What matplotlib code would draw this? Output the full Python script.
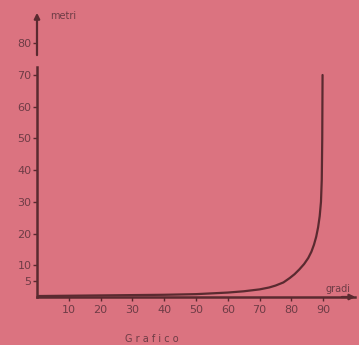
import numpy as np
import matplotlib
matplotlib.use("Agg")
import matplotlib.pyplot as plt

# curve (angle in gradi -> height in metri)
gradi = [0, 10, 20, 30, 40, 50, 60, 65, 70, 73, 75, 77.5, 79.5, 81, 82.5, 84, 85.3, 86.3, 87.1, 87.8, 88.4, 88.9, 89.3, 89.55, 89.7, 89.8]
metri = [0.3, 0.4, 0.5, 0.6, 0.7, 0.9, 1.4, 1.8, 2.4, 3.0, 3.6, 4.6, 6, 7.2, 8.7, 10.4, 12.3, 14.3, 16.5, 19, 22, 25.5, 30, 37, 50, 70]

x_ticks = [10, 20, 30, 40, 50, 60, 70, 80, 90]
y_ticks = [5, 10, 20, 30, 40, 50, 60, 70, 80]

bg = "#db7380"
ink = "#5a2a30"
txt = "#6e3c46"

W, H = 359, 345
fig = plt.figure(figsize=(W / 100, H / 100), dpi=100)
fig.patch.set_facecolor(bg)

# axes placed in pixel terms: origin at (37, 297), 100 deg over 318 px, 90.5 m over 287 px
ax = fig.add_axes([37 / W, (H - 297) / H, 318 / W, 287 / H])
ax.set_facecolor(bg)
ax.set_xlim(0, 100)
ax.set_ylim(0, 90.5)

ax.plot(gradi, metri, color=ink, lw=1.6, solid_capstyle="round", solid_joinstyle="round")

for s in ["top", "right"]:
    ax.spines[s].set_visible(False)
ax.spines["bottom"].set_color(ink)
ax.spines["bottom"].set_linewidth(1.8)
ax.spines["left"].set_color(ink)
ax.spines["left"].set_linewidth(1.8)
ax.spines["left"].set_bounds(0, 72.6)

# upper piece of the broken y axis with arrow
ax.annotate("", xy=(0, 90.5), xytext=(0, 75.4),
            arrowprops=dict(arrowstyle="-|>", color=ink, lw=1.6, mutation_scale=8),
            annotation_clip=False)
# arrow on x axis
ax.annotate("", xy=(101, 0), xytext=(95, 0),
            arrowprops=dict(arrowstyle="-|>", color=ink, lw=1.6, mutation_scale=8),
            annotation_clip=False)

ax.set_xticks(x_ticks)
ax.set_xticklabels([str(v) for v in x_ticks])
ax.set_yticks(y_ticks)
ax.set_yticklabels([str(v) for v in y_ticks])
ax.tick_params(axis="both", colors=ink, labelcolor=txt, labelsize=8, length=3, width=1)
ax.tick_params(axis="x", pad=3)
ax.tick_params(axis="y", pad=1)

fig.text(50 / W, 1 - 16 / H, "metri", color=txt, fontsize=7, ha="left", va="center")
fig.text(338 / W, 1 - 289 / H, "gradi", color=txt, fontsize=7, ha="center", va="center")
fig.text(152 / W, 1 - 339 / H, "G r a f i c o", color=txt, fontsize=7, ha="center", va="center")

fig.savefig("out.png", dpi=100, facecolor=bg)
